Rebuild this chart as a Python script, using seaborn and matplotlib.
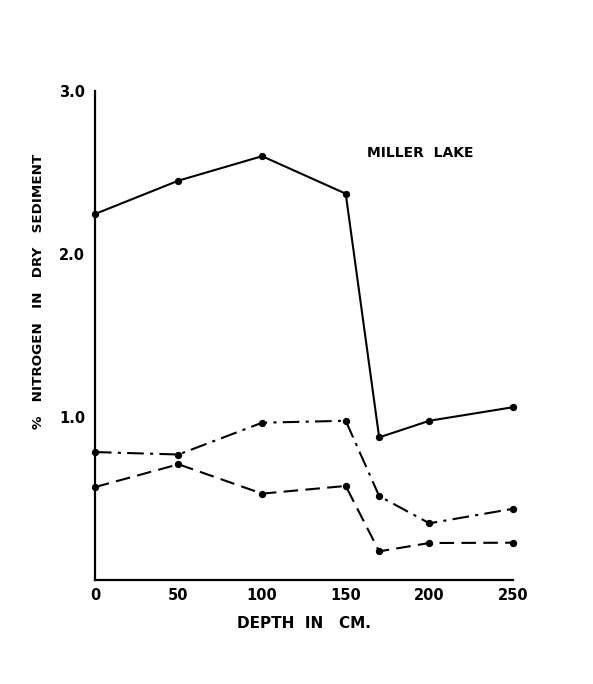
import pandas as pd
import matplotlib
matplotlib.use("Agg")
import matplotlib.pyplot as plt
import seaborn as sns

# Miller Lake sediment nitrogen profiles
depth = [0, 50, 100, 150, 170, 200, 250]
series_solid = [2.245, 2.45, 2.60, 2.37, 0.875, 0.977, 1.06]
series_dashdot = [0.785, 0.77, 0.965, 0.977, 0.515, 0.348, 0.437]
series_dashed = [0.57, 0.71, 0.53, 0.577, 0.176, 0.227, 0.229]

x_ticks = [0, 50, 100, 150, 200, 250]
y_ticks = [1.0, 2.0, 3.0]
y_tick_labels = ["1.0", "2.0", "3.0"]

df = pd.concat([
    pd.DataFrame({"depth": depth, "nitrogen": series_solid, "series": "solid"}),
    pd.DataFrame({"depth": depth, "nitrogen": series_dashdot, "series": "dashdot"}),
    pd.DataFrame({"depth": depth, "nitrogen": series_dashed, "series": "dashed"}),
])

sns.set_theme(style="white")
plt.rcParams['font.family'] = ['DejaVu Sans']

fig = plt.figure(figsize=(5.93, 6.84), dpi=100)
ax = fig.add_axes([0.160, 0.152, 0.705, 0.715])

dash_map = {"solid": "", "dashdot": (8, 3, 1.5, 3), "dashed": (7, 3.5)}
sns.lineplot(data=df, x="depth", y="nitrogen", style="series", dashes=dash_map,
             hue="series", palette={"solid": "black", "dashdot": "black", "dashed": "black"},
             markers={"solid": "o", "dashdot": "o", "dashed": "o"},
             markersize=4.5, linewidth=1.5, markeredgecolor="black",
             legend=False, ax=ax, sort=False, clip_on=False)

ax.set_xlim(0, 250)
ax.set_ylim(0, 3.0)
ax.set_xticks(x_ticks)
ax.set_xticklabels([str(t) for t in x_ticks], fontsize=10.5, fontweight="bold")
ax.set_yticks(y_ticks)
ax.set_yticklabels(y_tick_labels, fontsize=10.5, fontweight="bold")
ax.tick_params(axis="x", direction="in", length=4, width=1.3, colors="black", pad=6)
ax.tick_params(axis="y", direction="out", length=4, width=1.3, colors="black", pad=3)

for side in ["top", "right"]:
    ax.spines[side].set_visible(False)
for side in ["left", "bottom"]:
    ax.spines[side].set_color("black")
    ax.spines[side].set_linewidth(1.6)

ax.set_xlabel("DEPTH  IN   CM.", fontsize=11, fontweight="bold", labelpad=9, color="black")
ax.set_ylabel("%   NITROGEN   IN   DRY   SEDIMENT", fontsize=9.7, fontweight="bold", color="black")
ax.yaxis.set_label_coords(-0.12, 0.59)

ax.text(163, 2.62, "MILLER  LAKE", fontsize=10, fontweight="bold", va="center", color="black")

fig.savefig("out.png", dpi=100)
